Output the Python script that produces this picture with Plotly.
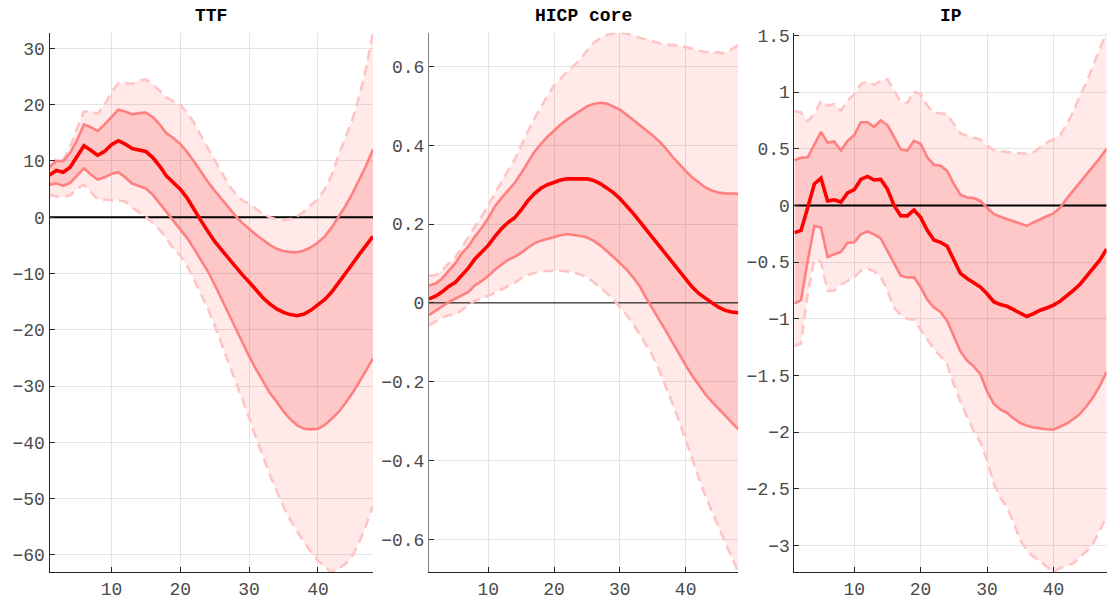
import plotly.graph_objects as go

horizon = list(range(1, 49))
titles = ["TTF", "HICP core", "IP"]

# ---------------- TTF ----------------
ttf_lo90 = [4.0, 3.7, 3.6, 3.9, 5.0, 5.8, 4.5, 3.2, 3.1, 3.1, 3.0, 2.8, 1.7, 0.9, 0.1, -1.0,
            -2.2, -3.8, -5.6, -6.8, -8.6, -11.0, -13.5, -16.2, -19.2, -22.5, -25.6, -28.8, -32.3, -35.6, -39.2, -42.6,
            -45.7, -48.6, -51.4, -53.8, -55.8, -57.8, -59.5, -61.0, -62.2, -63.1, -62.5, -61.6, -60.2, -57.8, -54.7, -51.3]
ttf_lo68 = [5.8, 6.0, 5.6, 6.1, 7.4, 8.7, 7.6, 6.7, 7.1, 7.7, 8.0, 7.1, 6.0, 5.5, 5.1, 4.0,
            2.5, 0.8, -0.7, -2.0, -3.7, -5.6, -7.6, -9.6, -12.0, -14.6, -17.2, -19.8, -22.3, -24.7, -27.0, -29.2,
            -31.2, -32.8, -34.5, -35.9, -37.0, -37.6, -37.7, -37.6, -36.9, -35.8, -34.6, -33.0, -31.3, -29.3, -27.1, -25.1]
ttf_med = [7.5, 8.3, 8.0, 8.9, 10.8, 12.7, 11.9, 11.0, 11.7, 12.9, 13.6, 13.0, 12.2, 12.0, 11.7, 10.6,
           9.1, 7.3, 6.1, 5.0, 3.4, 1.3, -0.6, -2.5, -4.3, -5.8, -7.3, -8.8, -10.2, -11.5, -12.9, -14.3,
           -15.4, -16.3, -16.9, -17.3, -17.5, -17.2, -16.5, -15.6, -14.6, -13.3, -11.7, -10.0, -8.3, -6.6, -5.0, -3.4]
ttf_hi68 = [8.9, 10.0, 10.0, 11.4, 13.7, 16.5, 16.0, 15.3, 16.5, 17.9, 19.1, 18.8, 18.3, 18.5, 18.6, 17.8,
            16.5, 14.9, 14.1, 13.0, 11.6, 9.9, 8.0, 6.3, 4.7, 3.2, 1.8, 0.3, -1.0, -2.1, -3.1, -4.0,
            -4.9, -5.6, -6.0, -6.2, -6.2, -5.9, -5.3, -4.5, -3.4, -1.8, 0.0, 2.0, 4.2, 6.6, 9.2, 12.1]
ttf_hi90 = [9.0, 10.4, 10.2, 12.5, 15.8, 18.8, 18.8, 18.4, 20.0, 22.2, 23.8, 23.9, 23.7, 24.3, 24.5, 23.6,
            22.5, 21.3, 20.6, 20.0, 18.6, 16.8, 14.5, 12.3, 10.0, 7.8, 5.8, 4.2, 3.0, 2.4, 1.5, 0.6,
            0.0, -0.4, -0.5, -0.3, 0.2, 1.0, 2.2, 3.2, 5.0, 7.5, 11.0, 14.2, 17.3, 21.5, 26.5, 32.8]

# ---------------- HICP core ----------------
hicp_lo90 = [-0.057, -0.047, -0.038, -0.031, -0.030, -0.018, -0.005, 0.006, 0.011, 0.017, 0.025, 0.034, 0.042, 0.051, 0.062, 0.071,
             0.076, 0.080, 0.081, 0.082, 0.082, 0.080, 0.077, 0.072, 0.065, 0.053, 0.040, 0.025, 0.010, -0.009, -0.030, -0.052,
             -0.080, -0.108, -0.135, -0.172, -0.212, -0.255, -0.300, -0.350, -0.400, -0.445, -0.490, -0.530, -0.568, -0.608, -0.645, -0.684]
hicp_lo68 = [-0.031, -0.021, -0.009, 0.002, 0.011, 0.020, 0.028, 0.045, 0.055, 0.068, 0.084, 0.097, 0.109, 0.117, 0.127, 0.140,
             0.151, 0.158, 0.163, 0.167, 0.172, 0.175, 0.173, 0.170, 0.166, 0.158, 0.146, 0.132, 0.117, 0.101, 0.085, 0.065,
             0.043, 0.012, -0.015, -0.043, -0.071, -0.100, -0.130, -0.158, -0.185, -0.210, -0.232, -0.251, -0.268, -0.285, -0.303, -0.321]
hicp_med = [0.010, 0.017, 0.028, 0.042, 0.052, 0.071, 0.089, 0.112, 0.128, 0.146, 0.168, 0.188, 0.204, 0.216, 0.236, 0.259,
            0.277, 0.291, 0.300, 0.307, 0.312, 0.315, 0.315, 0.316, 0.315, 0.311, 0.303, 0.292, 0.280, 0.265, 0.247, 0.228,
            0.207, 0.186, 0.166, 0.144, 0.122, 0.100, 0.079, 0.058, 0.040, 0.024, 0.011, 0.000, -0.011, -0.019, -0.023, -0.025]
hicp_hi68 = [0.044, 0.049, 0.062, 0.082, 0.101, 0.126, 0.144, 0.169, 0.190, 0.215, 0.245, 0.266, 0.284, 0.304, 0.329, 0.356,
             0.383, 0.403, 0.422, 0.437, 0.453, 0.466, 0.477, 0.489, 0.499, 0.505, 0.508, 0.506, 0.499, 0.491, 0.478, 0.465,
             0.452, 0.440, 0.425, 0.410, 0.392, 0.371, 0.352, 0.335, 0.318, 0.305, 0.293, 0.285, 0.280, 0.278, 0.277, 0.277]
hicp_hi90 = [0.069, 0.070, 0.082, 0.100, 0.115, 0.142, 0.168, 0.194, 0.219, 0.249, 0.278, 0.307, 0.336, 0.363, 0.400, 0.434,
             0.467, 0.497, 0.526, 0.552, 0.570, 0.587, 0.602, 0.618, 0.640, 0.660, 0.672, 0.680, 0.684, 0.686, 0.684, 0.678,
             0.673, 0.669, 0.664, 0.659, 0.656, 0.655, 0.652, 0.650, 0.645, 0.640, 0.637, 0.637, 0.636, 0.633, 0.643, 0.655]

# ---------------- IP ----------------
ip_lo90 = [-1.24, -1.22, -0.78, -0.48, -0.50, -0.755, -0.75, -0.70, -0.665, -0.635, -0.575, -0.56, -0.58, -0.63, -0.75, -0.90,
           -0.97, -1.00, -1.01, -1.09, -1.18, -1.27, -1.33, -1.40, -1.58, -1.73, -1.87, -1.99, -2.09, -2.25, -2.45, -2.58,
           -2.66, -2.80, -2.95, -3.05, -3.10, -3.14, -3.19, -3.238, -3.20, -3.18, -3.16, -3.10, -3.05, -2.98, -2.86, -2.75]
ip_lo68 = [-0.865, -0.835, -0.49, -0.18, -0.195, -0.455, -0.43, -0.41, -0.33, -0.325, -0.255, -0.23, -0.255, -0.29, -0.40, -0.515,
           -0.62, -0.635, -0.635, -0.72, -0.83, -0.90, -0.94, -1.02, -1.16, -1.29, -1.37, -1.42, -1.49, -1.64, -1.75, -1.80,
           -1.83, -1.88, -1.92, -1.945, -1.96, -1.97, -1.975, -1.98, -1.955, -1.925, -1.885, -1.84, -1.77, -1.69, -1.59, -1.47]
ip_med = [-0.24, -0.22, -0.02, 0.19, 0.24, 0.04, 0.05, 0.03, 0.11, 0.14, 0.23, 0.256, 0.225, 0.23, 0.145, 0.0,
          -0.09, -0.092, -0.04, -0.105, -0.22, -0.305, -0.325, -0.36, -0.48, -0.60, -0.645, -0.68, -0.72, -0.78, -0.85, -0.875,
          -0.89, -0.92, -0.95, -0.98, -0.955, -0.925, -0.905, -0.88, -0.845, -0.80, -0.75, -0.695, -0.625, -0.56, -0.48, -0.385]
ip_hi68 = [0.40, 0.42, 0.425, 0.54, 0.65, 0.555, 0.565, 0.485, 0.57, 0.62, 0.735, 0.735, 0.695, 0.75, 0.71, 0.605,
           0.495, 0.485, 0.57, 0.545, 0.425, 0.36, 0.35, 0.305, 0.19, 0.095, 0.07, 0.065, 0.04, -0.02, -0.075, -0.10,
           -0.12, -0.135, -0.16, -0.18, -0.15, -0.12, -0.095, -0.07, -0.02, 0.06, 0.13, 0.20, 0.27, 0.34, 0.42, 0.50]
ip_hi90 = [0.835, 0.82, 0.745, 0.805, 0.925, 0.88, 0.895, 0.835, 0.925, 0.98, 1.07, 1.095, 1.065, 1.10, 1.115, 1.01,
           0.915, 0.905, 1.005, 0.985, 0.88, 0.82, 0.81, 0.805, 0.72, 0.635, 0.615, 0.60, 0.58, 0.53, 0.49, 0.48,
           0.47, 0.465, 0.46, 0.455, 0.47, 0.51, 0.555, 0.585, 0.62, 0.715, 0.83, 0.97, 1.09, 1.24, 1.38, 1.525]

# tick labels
x_tickvals = [10, 20, 30, 40]
ttf_yticks = [-60, -50, -40, -30, -20, -10, 0, 10, 20, 30]
hicp_yticks = [-0.6, -0.4, -0.2, 0, 0.2, 0.4, 0.6]
hicp_yticktext = ["\u22120.6", "\u22120.4", "\u22120.2", "0", "0.2", "0.4", "0.6"]
ip_yticks = [-3, -2.5, -2, -1.5, -1, -0.5, 0, 0.5, 1, 1.5]
ip_yticktext = ["\u22123", "\u22122.5", "\u22122", "\u22121.5", "\u22121", "\u22120.5", "0", "0.5", "1", "1.5"]
ttf_yticktext = [("\u2212" + str(abs(v))) if v < 0 else str(v) for v in ttf_yticks]

# ---------------- style ----------------
OUTER_FILL = "rgba(255,0,0,0.085)"
INNER_FILL = "rgba(255,0,0,0.14)"
MED_COLOR = "rgb(255,0,0)"
B68_COLOR = "rgb(255,128,128)"
B90_COLOR = "rgb(255,196,196)"
AXIS_COLOR = "#262626"
GRID_COLOR = "#e4e4e4"
FONT = "Liberation Mono"
TICK_COLOR = "#4a4a4a"

x_domains = [[49.5 / 1108, 373 / 1108], [429 / 1108, 738.3 / 1108], [794.4 / 1108, 1106.6 / 1108]]
y_domain = [1 - 572.3 / 606, 1 - 32.7 / 606]

panels = [
    (ttf_lo90, ttf_lo68, ttf_med, ttf_hi68, ttf_hi90, ttf_yticks, ttf_yticktext, 2, AXIS_COLOR),
    (hicp_lo90, hicp_lo68, hicp_med, hicp_hi68, hicp_hi90, hicp_yticks, hicp_yticktext, 1, "#7f7f7f"),
    (ip_lo90, ip_lo68, ip_med, ip_hi68, ip_hi90, ip_yticks, ip_yticktext, 2, AXIS_COLOR),
]

fig = go.Figure()
annotations = []
for i, (lo90, lo68, med, hi68, hi90, yt, ytt, zw, ylc) in enumerate(panels):
    xa = "x" if i == 0 else f"x{i + 1}"
    ya = "y" if i == 0 else f"y{i + 1}"
    common = dict(xaxis=xa, yaxis=ya, showlegend=False, hoverinfo="skip")
    # 90% band fill
    fig.add_trace(go.Scatter(x=horizon, y=lo90, mode="lines", line=dict(width=0), **common))
    fig.add_trace(go.Scatter(x=horizon, y=hi90, mode="lines", line=dict(width=0),
                             fill="tonexty", fillcolor=OUTER_FILL, **common))
    # 68% band fill
    fig.add_trace(go.Scatter(x=horizon, y=lo68, mode="lines", line=dict(width=0), **common))
    fig.add_trace(go.Scatter(x=horizon, y=hi68, mode="lines", line=dict(width=0),
                             fill="tonexty", fillcolor=INNER_FILL, **common))
    # zero line
    fig.add_trace(go.Scatter(x=[horizon[0], horizon[-1]], y=[0, 0], mode="lines",
                             line=dict(color="black", width=zw), **common))
    # 90% dashed bounds
    for s in (lo90, hi90):
        fig.add_trace(go.Scatter(x=horizon, y=s, mode="lines",
                                 line=dict(color=B90_COLOR, width=2.6, dash="10px,6px"), **common))
    # 68% solid bounds
    for s in (lo68, hi68):
        fig.add_trace(go.Scatter(x=horizon, y=s, mode="lines",
                                 line=dict(color=B68_COLOR, width=2.6), **common))
    # median
    fig.add_trace(go.Scatter(x=horizon, y=med, mode="lines",
                             line=dict(color=MED_COLOR, width=3.6), **common))

    xkey = "xaxis" if i == 0 else f"xaxis{i + 1}"
    ykey = "yaxis" if i == 0 else f"yaxis{i + 1}"
    fig.update_layout(**{
        xkey: dict(domain=x_domains[i], anchor=ya, range=[horizon[0], horizon[-1]],
                   tickvals=x_tickvals, showline=True, linecolor=AXIS_COLOR, linewidth=1,
                   ticks="inside", ticklen=5, tickcolor=AXIS_COLOR, showgrid=True,
                   gridcolor=GRID_COLOR, gridwidth=1, zeroline=False, automargin=False,
                   tickfont=dict(family=FONT, size=18, color=TICK_COLOR)),
        ykey: dict(domain=y_domain, anchor=xa, range=[min(lo90), max(hi90)],
                   tickvals=yt, ticktext=ytt, showline=True, linecolor=ylc, linewidth=1,
                   ticks="inside", ticklen=5, tickcolor=AXIS_COLOR, showgrid=True,
                   gridcolor=GRID_COLOR, gridwidth=1, zeroline=False, automargin=False,
                   tickfont=dict(family=FONT, size=18, color=TICK_COLOR)),
    })
    annotations.append(dict(text="<b>" + titles[i] + "</b>", xref="paper", yref="paper",
                            x=sum(x_domains[i]) / 2, y=1 - 16 / 606, xanchor="center",
                            yanchor="middle", showarrow=False,
                            font=dict(family=FONT, size=18, color="black")))

fig.update_layout(width=1108, height=606, margin=dict(l=0, r=0, t=0, b=0, pad=0),
                  paper_bgcolor="white", plot_bgcolor="white", annotations=annotations)

fig.write_html("out.html", config={"displayModeBar": False},
               post_script="document.body.style.margin='0';")
